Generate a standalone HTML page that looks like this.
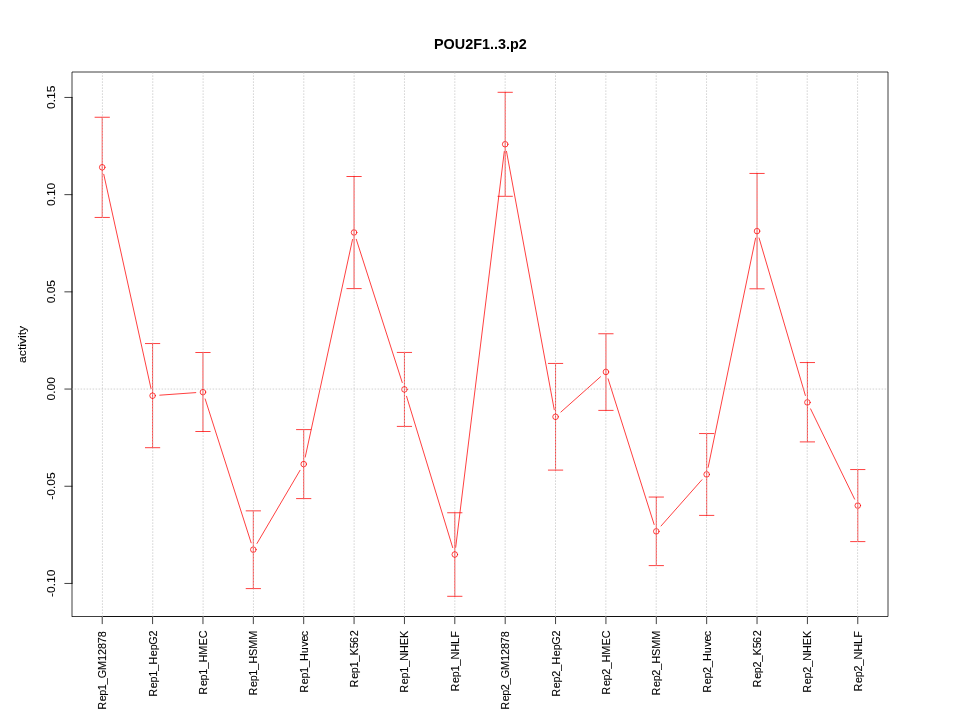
<!DOCTYPE html>
<html lang="en"><head><meta charset="utf-8"><title>POU2F1..3.p2</title>
<style>html,body{margin:0;padding:0;background:#fff;}body{width:960px;height:720px;overflow:hidden;}svg{display:block;}text{font-family:"Liberation Sans",sans-serif;font-size:12px;fill:#000;stroke:#000;stroke-width:0.1px;}.t{font-weight:bold;font-size:14.4px;stroke:none;}.x{font-size:10.8px;}.k{stroke:#000;stroke-width:0.75;fill:none;stroke-linecap:round;stroke-linejoin:round;}.b{stroke-linecap:butt;}.r{stroke:#f00;stroke-width:0.75;fill:none;stroke-linecap:round;}.g{stroke:#c4c4c4;stroke-width:0.75;fill:none;stroke-dasharray:0.75 2.25;stroke-linecap:round;}</style></head><body>
<svg width="960" height="720" viewBox="0 0 960 720">
<rect width="960" height="720" fill="#fff"/>
<line class="r" x1="103.77" y1="174.33" x2="151.04" y2="388.67"/>
<line class="r" x1="159.77" y1="395.19" x2="195.78" y2="392.61"/>
<line class="r" x1="205.16" y1="398.96" x2="251.14" y2="542.79"/>
<line class="r" x1="256.99" y1="543.45" x2="300.05" y2="470.30"/>
<line class="r" x1="305.23" y1="457.06" x2="352.54" y2="239.49"/>
<line class="r" x1="356.27" y1="239.31" x2="402.24" y2="382.54"/>
<line class="r" x1="406.55" y1="396.29" x2="452.71" y2="547.61"/>
<line class="r" x1="455.69" y1="547.35" x2="504.31" y2="151.40"/>
<line class="r" x1="506.49" y1="151.33" x2="554.25" y2="409.72"/>
<line class="r" x1="560.93" y1="412.01" x2="600.55" y2="376.74"/>
<line class="r" x1="608.10" y1="378.82" x2="654.13" y2="524.48"/>
<line class="r" x1="661.07" y1="525.96" x2="701.90" y2="479.79"/>
<line class="r" x1="708.13" y1="467.35" x2="755.58" y2="238.15"/>
<line class="r" x1="759.07" y1="238.01" x2="805.38" y2="395.49"/>
<line class="r" x1="810.57" y1="408.87" x2="854.62" y2="499.13"/>
<circle class="r" cx="102.22" cy="167.30" r="2.8"/>
<path class="r" d="M102.22 117.25V217.45M95.02 117.25H109.42M95.02 217.45H109.42"/>
<circle class="r" cx="152.59" cy="395.70" r="2.8"/>
<path class="r" d="M152.59 343.55V447.70M145.39 343.55H159.79M145.39 447.70H159.79"/>
<circle class="r" cx="202.96" cy="392.10" r="2.8"/>
<path class="r" d="M202.96 352.50V431.50M195.76 352.50H210.16M195.76 431.50H210.16"/>
<circle class="r" cx="253.33" cy="549.65" r="2.8"/>
<path class="r" d="M253.33 510.85V588.60M246.13 510.85H260.53M246.13 588.60H260.53"/>
<circle class="r" cx="303.70" cy="464.10" r="2.8"/>
<path class="r" d="M303.70 429.60V498.60M296.50 429.60H310.90M296.50 498.60H310.90"/>
<circle class="r" cx="354.07" cy="232.45" r="2.8"/>
<path class="r" d="M354.07 176.50V288.60M346.87 176.50H361.27M346.87 288.60H361.27"/>
<circle class="r" cx="404.44" cy="389.40" r="2.8"/>
<path class="r" d="M404.44 352.45V426.40M397.24 352.45H411.64M397.24 426.40H411.64"/>
<circle class="r" cx="454.81" cy="554.50" r="2.8"/>
<path class="r" d="M454.81 512.75V596.30M447.61 512.75H462.01M447.61 596.30H462.01"/>
<circle class="r" cx="505.19" cy="144.25" r="2.8"/>
<path class="r" d="M505.19 92.30V196.30M497.99 92.30H512.39M497.99 196.30H512.39"/>
<circle class="r" cx="555.56" cy="416.80" r="2.8"/>
<path class="r" d="M555.56 363.45V470.10M548.36 363.45H562.76M548.36 470.10H562.76"/>
<circle class="r" cx="605.93" cy="371.95" r="2.8"/>
<path class="r" d="M605.93 333.75V410.40M598.73 333.75H613.13M598.73 410.40H613.13"/>
<circle class="r" cx="656.30" cy="531.35" r="2.8"/>
<path class="r" d="M656.30 497.05V565.60M649.10 497.05H663.50M649.10 565.60H663.50"/>
<circle class="r" cx="706.67" cy="474.40" r="2.8"/>
<path class="r" d="M706.67 433.55V515.40M699.47 433.55H713.87M699.47 515.40H713.87"/>
<circle class="r" cx="757.04" cy="231.10" r="2.8"/>
<path class="r" d="M757.04 173.45V288.80M749.84 173.45H764.24M749.84 288.80H764.24"/>
<circle class="r" cx="807.41" cy="402.40" r="2.8"/>
<path class="r" d="M807.41 362.55V441.90M800.21 362.55H814.61M800.21 441.90H814.61"/>
<circle class="r" cx="857.78" cy="505.60" r="2.8"/>
<path class="r" d="M857.78 469.55V541.60M850.58 469.55H864.98M850.58 541.60H864.98"/>
<line class="k b" x1="72.00" y1="72.00" x2="888.00" y2="72.00"/>
<line class="k b" x1="888.00" y1="72.00" x2="888.00" y2="616.50"/>
<line class="k b" x1="888.00" y1="616.50" x2="72.00" y2="616.50"/>
<line class="k b" x1="72.00" y1="616.88" x2="72.00" y2="72.00"/>
<path class="k" d="M72.00 97.45V583.45M72.00 97.45h-7.2M72.00 194.65h-7.2M72.00 291.85h-7.2M72.00 389.05h-7.2M72.00 486.25h-7.2M72.00 583.45h-7.2"/>
<text transform="translate(55,97.25) rotate(-90) scale(1,0.92)" text-anchor="middle">0.15</text>
<text transform="translate(55,194.45) rotate(-90) scale(1,0.92)" text-anchor="middle">0.10</text>
<text transform="translate(55,291.65) rotate(-90) scale(1,0.92)" text-anchor="middle">0.05</text>
<text transform="translate(55,388.85) rotate(-90) scale(1,0.92)" text-anchor="middle">0.00</text>
<text transform="translate(55,486.05) rotate(-90) scale(1,0.92)" text-anchor="middle">-0.05</text>
<text transform="translate(55,583.25) rotate(-90) scale(1,0.92)" text-anchor="middle">-0.10</text>
<path class="k" d="M102.22 616.50H857.78M102.22 616.50v7.2M152.59 616.50v7.2M202.96 616.50v7.2M253.33 616.50v7.2M303.70 616.50v7.2M354.07 616.50v7.2M404.44 616.50v7.2M454.81 616.50v7.2M505.19 616.50v7.2M555.56 616.50v7.2M605.93 616.50v7.2M656.30 616.50v7.2M706.67 616.50v7.2M757.04 616.50v7.2M807.41 616.50v7.2M857.78 616.50v7.2"/>
<text class="x" transform="translate(106.22,631.23) rotate(-90) scale(1,1.05)" x="-78.56" dx="0.00 0.64 -0.46 -0.36 -0.06 -0.06 -0.06 -0.06 -0.06 -0.06 -0.06 -0.06">Rep1_GM12878</text>
<text class="x" transform="translate(156.59,630.35) rotate(-90) scale(1,1.05)" x="-66.34" dx="0.00 0.73 -0.37 -0.27 0.03 0.03 0.73 -0.07 -0.57 0.03">Rep1_HepG2</text>
<text class="x" transform="translate(206.96,630.49) rotate(-90) scale(1,1.05)" x="-64.20" dx="0.00 0.77 -0.33 -0.23 0.07 0.07 0.07 0.07 0.07">Rep1_HMEC</text>
<text class="x" transform="translate(257.33,630.71) rotate(-90) scale(1,1.05)" x="-64.68" dx="0.00 0.68 -0.42 -0.32 -0.02 -0.02 -0.02 -0.02 -0.02">Rep1_HSMM</text>
<text class="x" transform="translate(307.70,630.42) rotate(-90) scale(1,1.05)" x="-62.27" dx="0.00 0.68 -0.42 -0.32 -0.02 -0.02 -0.02 0.48 -0.12 -0.72">Rep1_Huvec</text>
<text class="x" transform="translate(358.07,630.15) rotate(-90) scale(1,1.05)" x="-57.24" dx="0.00 0.72 -0.38 -0.28 0.02 0.02 0.02 -0.88 0.92">Rep1_K562</text>
<text class="x" transform="translate(408.44,630.78) rotate(-90) scale(1,1.05)" x="-61.91" dx="0.00 0.71 -0.39 -0.29 0.01 0.01 0.01 0.01 0.01">Rep1_NHEK</text>
<text class="x" transform="translate(458.81,631.26) rotate(-90) scale(1,1.05)" x="-60.13" dx="0.00 0.71 -0.39 -0.29 0.01 0.01 0.01 0.01 0.01">Rep1_NHLF</text>
<text class="x" transform="translate(509.19,631.23) rotate(-90) scale(1,1.05)" x="-78.56" dx="0.00 0.64 -0.46 -0.36 -0.06 -0.06 -0.06 -0.06 -0.06 -0.06 -0.06 -0.06">Rep2_GM12878</text>
<text class="x" transform="translate(559.56,630.35) rotate(-90) scale(1,1.05)" x="-66.34" dx="0.00 0.73 -0.37 -0.27 0.03 0.03 0.73 -0.07 -0.57 0.03">Rep2_HepG2</text>
<text class="x" transform="translate(609.93,630.49) rotate(-90) scale(1,1.05)" x="-64.20" dx="0.00 0.77 -0.33 -0.23 0.07 0.07 0.07 0.07 0.07">Rep2_HMEC</text>
<text class="x" transform="translate(660.30,630.71) rotate(-90) scale(1,1.05)" x="-64.68" dx="0.00 0.68 -0.42 -0.32 -0.02 -0.02 -0.02 -0.02 -0.02">Rep2_HSMM</text>
<text class="x" transform="translate(710.67,630.42) rotate(-90) scale(1,1.05)" x="-62.27" dx="0.00 0.68 -0.42 -0.32 -0.02 -0.02 -0.02 0.48 -0.12 -0.72">Rep2_Huvec</text>
<text class="x" transform="translate(761.04,630.15) rotate(-90) scale(1,1.05)" x="-57.24" dx="0.00 0.72 -0.38 -0.28 0.02 0.02 0.02 -0.88 0.92">Rep2_K562</text>
<text class="x" transform="translate(811.41,630.78) rotate(-90) scale(1,1.05)" x="-61.91" dx="0.00 0.71 -0.39 -0.29 0.01 0.01 0.01 0.01 0.01">Rep2_NHEK</text>
<text class="x" transform="translate(861.78,631.26) rotate(-90) scale(1,1.05)" x="-60.13" dx="0.00 0.71 -0.39 -0.29 0.01 0.01 0.01 0.01 0.01">Rep2_NHLF</text>
<line class="g" x1="102.42" y1="616.50" x2="102.42" y2="72.00"/>
<line class="g" x1="152.76" y1="616.50" x2="152.76" y2="72.00"/>
<line class="g" x1="203.11" y1="616.50" x2="203.11" y2="72.00"/>
<line class="g" x1="253.45" y1="616.50" x2="253.45" y2="72.00"/>
<line class="g" x1="303.79" y1="616.50" x2="303.79" y2="72.00"/>
<line class="g" x1="354.14" y1="616.50" x2="354.14" y2="72.00"/>
<line class="g" x1="404.48" y1="616.50" x2="404.48" y2="72.00"/>
<line class="g" x1="454.82" y1="616.50" x2="454.82" y2="72.00"/>
<line class="g" x1="505.16" y1="616.50" x2="505.16" y2="72.00"/>
<line class="g" x1="555.51" y1="616.50" x2="555.51" y2="72.00"/>
<line class="g" x1="605.85" y1="616.50" x2="605.85" y2="72.00"/>
<line class="g" x1="656.19" y1="616.50" x2="656.19" y2="72.00"/>
<line class="g" x1="706.54" y1="616.50" x2="706.54" y2="72.00"/>
<line class="g" x1="756.88" y1="616.50" x2="756.88" y2="72.00"/>
<line class="g" x1="807.22" y1="616.50" x2="807.22" y2="72.00"/>
<line class="g" x1="857.57" y1="616.50" x2="857.57" y2="72.00"/>
<line class="g" x1="72.00" y1="389.05" x2="888.00" y2="389.05"/>
<text class="t" transform="translate(480.4,48.7) scale(1,1.03)" text-anchor="middle">POU2F1..3.p2</text>
<text transform="translate(26.1,344.4) rotate(-90) scale(1.01,0.9)" text-anchor="middle">activity</text>
</svg></body></html>
